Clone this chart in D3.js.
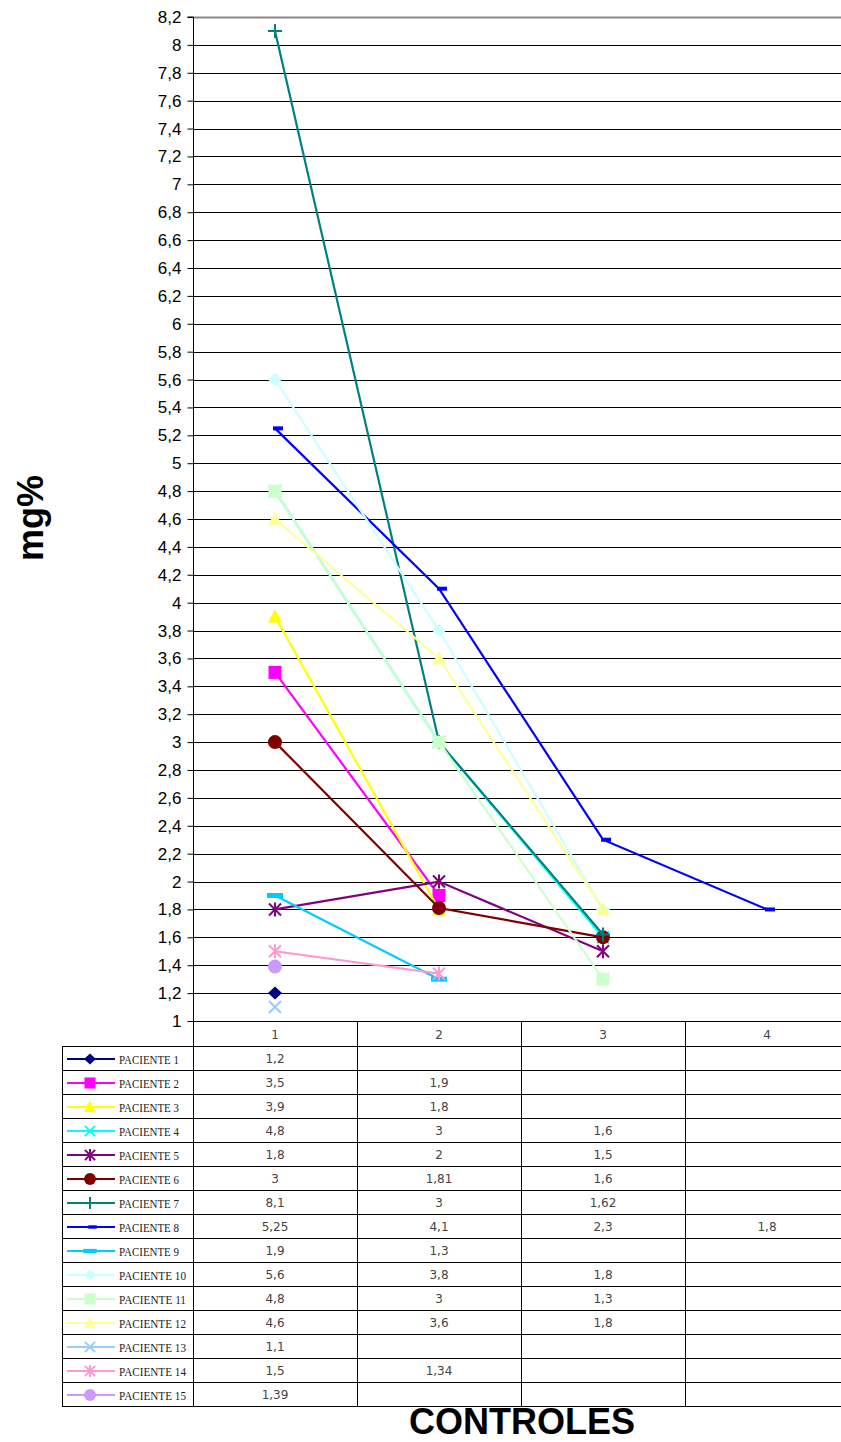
<!DOCTYPE html>
<html><head><meta charset="utf-8">
<script src="https://cdn.jsdelivr.net/npm/d3@7"></script>
<style>body{margin:0;background:#fff}svg{display:block}</style>
</head><body>
<svg id="c" width="841" height="1442"></svg>
<script>
const categories = [1, 2, 3, 4];
const yTicks = d3.range(1, 8.2001, 0.2).map(v => +v.toFixed(1));
const seriesNames = ["PACIENTE 1","PACIENTE 2","PACIENTE 3","PACIENTE 4","PACIENTE 5","PACIENTE 6","PACIENTE 7","PACIENTE 8","PACIENTE 9","PACIENTE 10","PACIENTE 11","PACIENTE 12","PACIENTE 13","PACIENTE 14","PACIENTE 15"];
const p1 = [1.2];
const p2 = [3.5, 1.9];
const p3 = [3.9, 1.8];
const p4 = [4.8, 3, 1.6];
const p5 = [1.8, 2, 1.5];
const p6 = [3, 1.81, 1.6];
const p7 = [8.1, 3, 1.62];
const p8 = [5.25, 4.1, 2.3, 1.8];
const p9 = [1.9, 1.3];
const p10 = [5.6, 3.8, 1.8];
const p11 = [4.8, 3, 1.3];
const p12 = [4.6, 3.6, 1.8];
const p13 = [1.1];
const p14 = [1.5, 1.34];
const p15 = [1.39];
const seriesValues = [p1,p2,p3,p4,p5,p6,p7,p8,p9,p10,p11,p12,p13,p14,p15];
const seriesColors = ["#000080","#FF00FF","#FFFF00","#00FFFF","#800080","#800000","#008080","#0000FF","#00CCFF","#CCFFFF","#CCFFCC","#FFFF99","#99CCFF","#FF99CC","#CC99FF"];
const seriesMarkers = ["diamond","square","triangle","x","star","circle","plus","dash","bar","diamond","square","triangle","x","star","circle"];

(function () {
const svg = d3.select("#c");
const left = 193, topY = 17, bottom = 1021;
const x = d3.scaleBand().domain(categories).range([left, 849]);
const y = d3.scaleLinear().domain([1, 8.2]).range([bottom, topY]);
const cx = c => x(c) + x.bandwidth() / 2;

// gridlines
svg.append("g").selectAll("line").data(yTicks.filter(v => v > 1)).join("line")
  .attr("x1", left).attr("x2", 841)
  .attr("y1", d => Math.round(y(d)) + 0.5).attr("y2", d => Math.round(y(d)) + 0.5)
  .attr("stroke", d => d === 8.2 ? "#888" : "#000").attr("stroke-width", d => d === 8.2 ? 2 : 1);

// y axis
const yAxis = d3.axisLeft(y).tickValues(yTicks).tickSize(6).tickPadding(6)
  .tickFormat(d => String(d).replace(".", ","));
const ya = svg.append("g").attr("transform", `translate(${left + 0.5},0)`).call(yAxis);
ya.select(".domain").attr("stroke", "#000").attr("d", `M-6,${topY}H0V${bottom}`);
ya.selectAll(".tick line").attr("stroke", "#000");
ya.selectAll("text").attr("font-family", "Arial, Liberation Sans, sans-serif").attr("font-size", 17).attr("fill", "#000");

// axis titles
svg.append("text").attr("transform", "translate(43,518) rotate(-90)")
  .attr("text-anchor", "middle").attr("font-family", "Arial, Liberation Sans, sans-serif")
  .attr("font-weight", "bold").attr("font-size", 36).text("mg%");
svg.append("text").attr("x", 522).attr("y", 1434).attr("text-anchor", "middle")
  .attr("font-family", "Arial, Liberation Sans, sans-serif").attr("font-weight", "bold")
  .attr("font-size", 36).text("CONTROLES");

function marker(g, type, color, scale) {
  const s = scale || 1;
  switch (type) {
    case "diamond": g.append("path").attr("d", `M0,${-6.5*s}L${7*s},0L0,${6.5*s}L${-7*s},0Z`).attr("fill", color); break;
    case "square": g.append("rect").attr("x", -6.5 * s).attr("y", -6.5 * s).attr("width", 13 * s).attr("height", 13 * s).attr("fill", color); break;
    case "triangle": g.append("path").attr("d", `M0,${-7.5*s}L${7*s},${6*s}L${-7*s},${6*s}Z`).attr("fill", color); break;
    case "circle": g.append("circle").attr("r", 7 * s).attr("fill", color); break;
    case "x": g.append("path").attr("d", `M${-6*s},${-6*s}L${6*s},${6*s}M${-6*s},${6*s}L${6*s},${-6*s}`).attr("stroke", color).attr("stroke-width", 2).attr("fill", "none"); break;
    case "star": g.append("path").attr("d", `M${-6*s},${-6*s}L${6*s},${6*s}M${-6*s},${6*s}L${6*s},${-6*s}M0,${-7*s}V${7*s}`).attr("stroke", color).attr("stroke-width", 2).attr("fill", "none"); break;
    case "plus": g.append("path").attr("d", `M${-7*s},0H${7*s}M0,${-7*s}V${7*s}`).attr("stroke", color).attr("stroke-width", 2).attr("fill", "none"); break;
    case "dash": g.append("rect").attr("x", -2 * s).attr("y", -2 * s).attr("width", 10 * s).attr("height", 4 * s).attr("fill", color); break;
    case "bar": g.append("rect").attr("x", -8 * s).attr("y", -2.5 * s).attr("width", 16 * s).attr("height", 5 * s).attr("fill", color); break;
  }
}

// series
const line = d3.line().x((d, i) => cx(categories[i])).y(d => y(d));
seriesValues.forEach((vals, si) => {
  const g = svg.append("g");
  if (vals.length > 1) {
    g.append("path").attr("d", line(vals)).attr("fill", "none")
      .attr("stroke", seriesColors[si]).attr("stroke-width", 2.2);
  }
  vals.forEach((v, i) => {
    const mg = g.append("g").attr("transform", `translate(${cx(categories[i])},${y(v)})`);
    marker(mg, seriesMarkers[si], seriesColors[si]);
  });
});

// data table
const tableLeft = 62, headH = 25, rowH = 24;
const tbl = svg.append("g");
const rowsTop = bottom + headH;
const tableBottom = rowsTop + rowH * seriesNames.length;
tbl.append("line").attr("x1", left).attr("x2", 841).attr("y1", bottom + 0.5).attr("y2", bottom + 0.5).attr("stroke", "#000");
d3.range(seriesNames.length + 1).forEach(i => {
  const yy = Math.round(rowsTop + i * rowH) + 0.5;
  tbl.append("line").attr("x1", tableLeft).attr("x2", 841).attr("y1", yy).attr("y2", yy).attr("stroke", "#000");
});
tbl.append("line").attr("x1", tableLeft + 0.5).attr("x2", tableLeft + 0.5).attr("y1", rowsTop).attr("y2", tableBottom).attr("stroke", "#000");
categories.forEach(c => {
  const xx = Math.round(x(c)) + 0.5;
  tbl.append("line").attr("x1", xx).attr("x2", xx).attr("y1", bottom).attr("y2", tableBottom).attr("stroke", "#000");
});
categories.forEach(c => {
  tbl.append("text").attr("x", cx(c)).attr("y", bottom + 18).attr("text-anchor", "middle")
    .attr("font-family", "DejaVu Sans, sans-serif").attr("font-size", 12).attr("fill", "#444").text(c);
});
seriesNames.forEach((name, si) => {
  const ry = rowsTop + si * rowH;
  const mid = ry + rowH / 2 + 1;
  tbl.append("line").attr("x1", 67).attr("x2", 115).attr("y1", mid).attr("y2", mid)
    .attr("stroke", seriesColors[si]).attr("stroke-width", 2);
  const mg = tbl.append("g").attr("transform", `translate(90,${mid})`);
  marker(mg, seriesMarkers[si], seriesColors[si], 0.85);
  tbl.append("text").attr("x", 119).attr("y", mid + 5)
    .attr("font-family", "Liberation Serif, serif").attr("font-size", 12).attr("fill", "#222")
    .attr("textLength", name.length > 10 ? 67 : 60).attr("lengthAdjust", "spacingAndGlyphs").text(name);
  seriesValues[si].forEach((v, i) => {
    tbl.append("text").attr("x", cx(categories[i])).attr("y", mid + 4).attr("text-anchor", "middle")
      .attr("font-family", "DejaVu Sans, sans-serif").attr("font-size", 12).attr("fill", "#444")
      .text(String(v).replace(".", ","));
  });
});
})();
</script>
</body></html>
